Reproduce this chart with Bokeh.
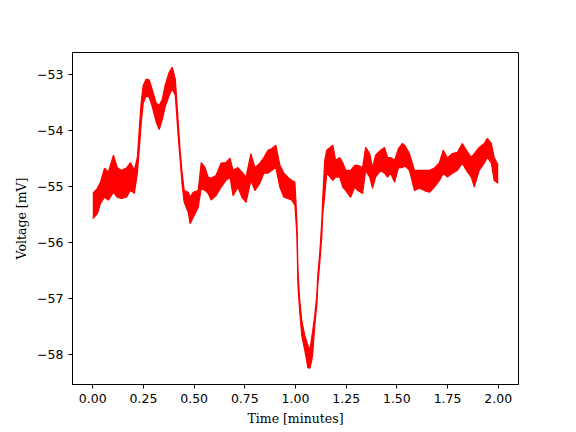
from bokeh.plotting import figure
from bokeh.models import ColumnDataSource, Range1d, FixedTicker, NumeralTickFormatter
from bokeh.embed import file_html
from bokeh.resources import INLINE

# Time in minutes, upper and lower envelope of the noisy voltage trace (mV)
time_min = [0.000, 0.023, 0.038, 0.058, 0.077, 0.102, 0.121, 0.141, 0.166, 0.186,
            0.205, 0.220, 0.230, 0.239, 0.249, 0.264, 0.279, 0.294, 0.313, 0.328,
            0.343, 0.357, 0.377, 0.392, 0.407, 0.421, 0.431, 0.441, 0.451, 0.471,
            0.480, 0.495, 0.520, 0.535, 0.554, 0.569, 0.584, 0.608, 0.633, 0.657,
            0.677, 0.692, 0.716, 0.736, 0.756, 0.780, 0.800, 0.824, 0.844, 0.864,
            0.884, 0.903, 0.923, 0.943, 0.962, 0.982, 0.997, 1.007, 1.012, 1.021,
            1.031, 1.046, 1.061, 1.071, 1.080, 1.085, 1.095, 1.105, 1.110, 1.120,
            1.130, 1.134, 1.144, 1.154, 1.184, 1.198, 1.218, 1.233, 1.248, 1.272,
            1.292, 1.307, 1.331, 1.346, 1.366, 1.380, 1.395, 1.420, 1.439, 1.454,
            1.469, 1.489, 1.508, 1.528, 1.538, 1.562, 1.587, 1.611, 1.636, 1.661,
            1.685, 1.710, 1.729, 1.749, 1.774, 1.798, 1.823, 1.843, 1.867, 1.882,
            1.906, 1.931, 1.946, 1.966, 1.980, 2.000]

voltage_high = [-55.12, -55.03, -54.92, -54.67, -54.74, -54.44, -54.66, -54.71, -54.67, -54.57,
                -54.71, -54.48, -53.94, -53.49, -53.19, -53.08, -53.10, -53.28, -53.51, -53.55,
                -53.44, -53.19, -52.96, -52.87, -53.08, -53.82, -54.35, -54.76, -55.07, -55.10,
                -55.19, -55.10, -55.07, -54.57, -54.66, -54.83, -54.85, -54.80, -54.58, -54.57,
                -54.49, -54.71, -54.66, -54.74, -54.83, -54.41, -54.66, -54.58, -54.48, -54.35,
                -54.32, -54.26, -54.62, -54.76, -54.83, -54.89, -54.92, -55.60, -56.49, -57.03,
                -57.39, -57.66, -57.83, -57.92, -57.69, -57.57, -57.30, -56.94, -56.58, -56.17,
                -55.60, -55.24, -54.53, -54.35, -54.26, -54.53, -54.48, -54.57, -54.71, -54.71,
                -54.62, -54.62, -54.66, -54.30, -54.41, -54.66, -54.44, -54.35, -54.30, -54.48,
                -54.48, -54.53, -54.32, -54.23, -54.26, -54.41, -54.71, -54.71, -54.71, -54.71,
                -54.67, -54.57, -54.35, -54.49, -54.41, -54.39, -54.23, -54.35, -54.48, -54.41,
                -54.30, -54.23, -54.14, -54.23, -54.48, -54.62]

voltage_low = [-55.57, -55.48, -55.30, -55.19, -55.24, -55.10, -55.19, -55.21, -55.19, -55.07,
               -55.12, -54.76, -54.30, -53.87, -53.51, -53.37, -53.41, -53.58, -53.85, -53.98,
               -53.80, -53.58, -53.37, -53.26, -53.37, -54.08, -54.53, -54.98, -55.28, -55.46,
               -55.66, -55.55, -55.37, -55.03, -55.07, -55.12, -55.24, -55.16, -55.01, -54.89,
               -54.83, -55.16, -55.01, -55.19, -55.28, -54.89, -55.07, -54.94, -54.76, -54.76,
               -54.71, -54.66, -55.01, -55.19, -55.21, -55.24, -55.33, -55.87, -56.76, -57.24,
               -57.66, -57.92, -58.23, -58.24, -58.10, -57.98, -57.48, -57.12, -56.76, -56.35,
               -55.87, -55.51, -55.16, -54.76, -54.89, -54.83, -54.83, -55.01, -55.07, -55.19,
               -55.01, -55.07, -55.12, -54.71, -54.83, -55.03, -54.83, -54.71, -54.76, -54.83,
               -54.76, -54.92, -54.66, -54.66, -54.62, -54.71, -55.07, -55.03, -55.07, -55.10,
               -55.01, -54.89, -54.76, -54.83, -54.76, -54.71, -54.58, -54.71, -54.83, -55.01,
               -54.71, -54.58, -54.48, -54.58, -54.89, -54.94]

x_ticks = [0.0, 0.25, 0.5, 0.75, 1.0, 1.25, 1.5, 1.75, 2.0]
y_ticks = [-58, -57, -56, -55, -54, -53]
y_tick_labels = {t: "\u2212" + str(abs(t)) for t in y_ticks}

source = ColumnDataSource(data=dict(t=time_min, high=voltage_high, low=voltage_low))

p = figure(width=576, height=432, output_backend="svg", toolbar_location=None,
           x_range=Range1d(-0.1, 2.1), y_range=Range1d(-58.53, -52.607),
           min_border_left=72, min_border_right=58, min_border_top=52, min_border_bottom=48)

p.varea(x="t", y1="low", y2="high", source=source, fill_color="red", fill_alpha=1.0)
p.line(x="t", y="high", source=source, line_color="red", line_width=1.2)
p.line(x="t", y="low", source=source, line_color="red", line_width=1.2)

p.xgrid.visible = False
p.ygrid.visible = False
p.outline_line_color = "black"
p.outline_line_alpha = 1.0
p.outline_line_width = 1

p.xaxis.ticker = FixedTicker(ticks=x_ticks)
p.xaxis.formatter = NumeralTickFormatter(format="0.00")
p.yaxis.ticker = FixedTicker(ticks=y_ticks)
p.yaxis.major_label_overrides = y_tick_labels

for ax in (p.xaxis[0], p.yaxis[0]):
    ax.axis_line_color = "black"
    ax.major_tick_line_color = "black"
    ax.major_tick_in = 0
    ax.major_tick_out = 4
    ax.minor_tick_line_color = None
    ax.major_label_text_color = "black"
    ax.major_label_text_font = "DejaVu Sans"
    ax.major_label_text_font_size = "12.5px"
    ax.major_label_standoff = 5
    ax.axis_label_text_font = "DejaVu Serif"
    ax.axis_label_text_font_style = "normal"
    ax.axis_label_text_font_size = "12.5px"
    ax.axis_label_text_color = "black"
    ax.axis_label_standoff = 5

p.xaxis.axis_label = "Time [minutes]"
p.yaxis.axis_label = "Voltage [mV]"
p.background_fill_color = "white"
p.border_fill_color = "white"

open("out.html", "w").write(file_html(p, INLINE))
